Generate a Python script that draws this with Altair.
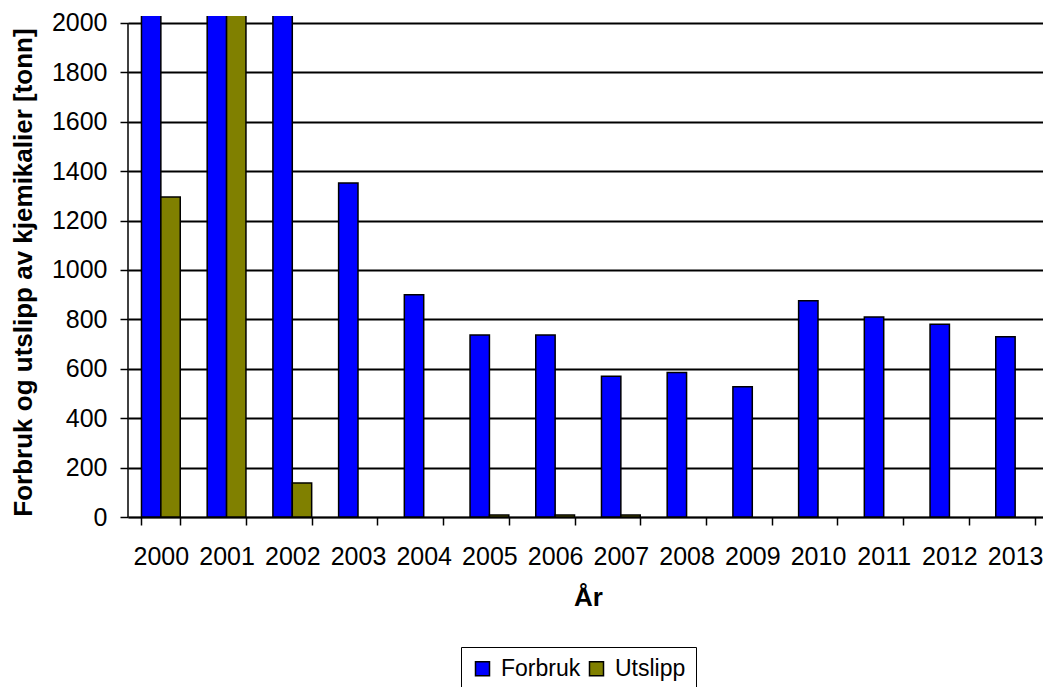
import altair as alt
import pandas as pd

# Chemical consumption and discharge per year, tonnes
years = ["2000", "2001", "2002", "2003", "2004", "2005", "2006",
         "2007", "2008", "2009", "2010", "2011", "2012", "2013"]
forbruk = [2300, 2800, 2100, 1352, 900, 737, 737, 570, 585, 527, 875, 810, 780, 730]
utslipp = [1295, 2100, 138, None, None, 8, 8, 8, None, None, None, None, None, None]
series_names = ["Forbruk", "Utslipp"]
series_colors = ["#0000FF", "#808000"]
y_ticks = list(range(0, 2001, 200))

rows = []
for yr, f, u in zip(years, forbruk, utslipp):
    rows.append({"Year": yr, "Serie": "Forbruk", "Verdi": f})
    rows.append({"Year": yr, "Serie": "Utslipp", "Verdi": u})
df = pd.DataFrame(rows)

FONT = "Liberation Sans"
W, H = 915, 501
LABEL_SIZE = 25
LEGEND_SIZE = 23
TITLE_SIZE = 26

x_scale = alt.Scale(domain=years, range=[0, 920], paddingInner=0.41, paddingOuter=0.205)
y_scale = alt.Scale(domain=[0, 2028], nice=False, zero=True)

bars = alt.Chart(df).mark_bar(stroke="black", strokeWidth=1.5, clip=True).encode(
    x=alt.X("Year:N", scale=x_scale, sort=years,
            axis=alt.Axis(title="År", tickBand="extent", grid=False, labelAngle=0,
                          tickSize=8, tickColor="black", tickWidth=1.5,
                          domainColor="black", domainWidth=1.5,
                          labelFontSize=LABEL_SIZE, labelPadding=19, labelColor="black",
                          titleFontSize=TITLE_SIZE, titleFontWeight="bold", titleColor="black",
                          titleY=80, titleBaseline="middle")),
    xOffset=alt.XOffset("Serie:N", sort=series_names,
                        scale=alt.Scale(paddingInner=0, paddingOuter=0)),
    y=alt.Y("Verdi:Q", scale=y_scale,
            axis=alt.Axis(title="Forbruk og utslipp av kjemikalier [tonn]", values=y_ticks,
                          format="d",
                          domain=False, grid=True, gridColor="black", gridWidth=2,
                          gridOpacity=1, tickSize=8, tickColor="black", tickWidth=1.5,
                          labelFontSize=LABEL_SIZE, labelPadding=13, labelColor="black",
                          titleFontSize=TITLE_SIZE, titleFontWeight="bold", titleColor="black",
                          titleAngle=-90, titleX=-105, titleY=256,
                          titleAlign="center", titleBaseline="middle")),
    color=alt.Color("Serie:N", sort=series_names,
                    scale=alt.Scale(domain=series_names, range=series_colors),
                    legend=alt.Legend(title=None, orient="none", direction="horizontal",
                                      legendX=333, legendY=631,
                                      symbolType="square", symbolSize=196,
                                      symbolStrokeColor="black", symbolStrokeWidth=1.5,
                                      symbolOpacity=1,
                                      labelFontSize=LEGEND_SIZE, labelColor="black",
                                      labelOffset=7, columnPadding=4,
                                      strokeColor="black", fillColor="white",
                                      padding=10)),
)

# left axis line, running only up to the top tick
axis_line = alt.Chart(pd.DataFrame({"a": [0]})).mark_rule(
    color="black", strokeWidth=1.5
).encode(
    x=alt.value(0),
    y=alt.datum(0),
    y2=alt.datum(2000),
)

chart = alt.layer(bars, axis_line).properties(
    width=W, height=H,
    autosize=alt.AutoSizeParams(type="none"),
    padding={"left": 128, "top": 16, "right": 0, "bottom": 170},
).configure(font=FONT).configure_view(stroke=None)

chart.save("out.html", embed_options={"renderer": "svg", "actions": False})
